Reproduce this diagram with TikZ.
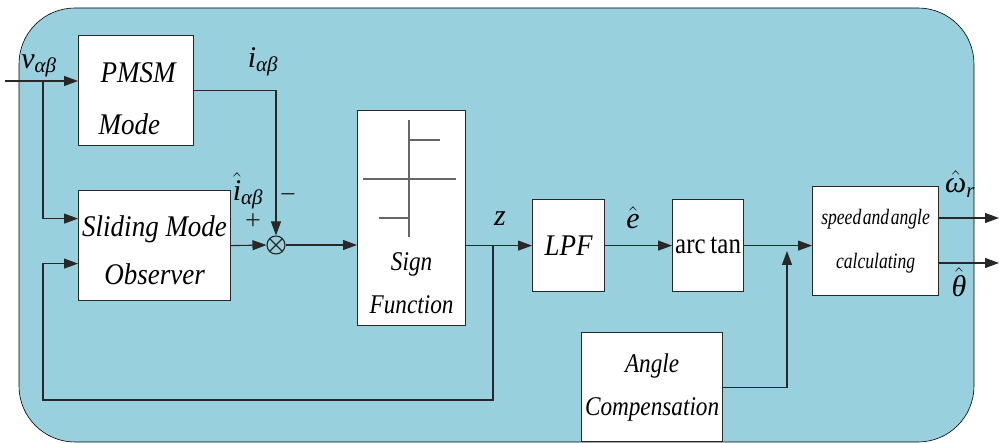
\RequirePackage{fix-cm}
\documentclass[tikz,border=0pt]{standalone}
\usepackage{fontspec}
\setmainfont{Liberation Serif}
\newfontfamily\blkfont[FakeStretch=0.9]{Liberation Serif}
\newfontfamily\narfont[FakeStretch=0.86]{Liberation Serif}
\newfontfamily\spdfont[FakeStretch=0.8,WordSpace=0.35]{Liberation Serif}
\usetikzlibrary{arrows.meta,calc}
\definecolor{bgc}{RGB}{153,208,222}
\definecolor{lnc}{RGB}{40,40,40}
\newcommand{\hatit}[1]{\ensuremath{\hat{\mbox{\itshape #1}}}}
\tikzset{
  blk/.style={draw=lnc, line width=1.2pt, fill=white, inner sep=0pt, anchor=north west, align=center,
    font=\blkfont\itshape\fontsize{30}{48}\selectfont},
  arr/.style={draw=lnc, line width=1.1pt, -{Triangle[length=14pt,width=10pt]}},
  ln/.style={draw=lnc, line width=1.1pt},
  lab/.style={inner sep=0pt, font=\itshape\fontsize{30}{32}\selectfont},
  sml/.style={inner sep=0pt, font=\fontsize{28}{30}\selectfont, text=lnc},
  sgn/.style={draw=black!60, line width=1.5pt}
}
\begin{document}
\begin{tikzpicture}[x=1pt,y=-1pt]
\useasboundingbox (0,0) rectangle (999,443);
\fill[bgc, draw=black, line width=0.6pt, rounded corners=56pt] (19,8) rectangle (974,442);
% blocks
\node[blk, minimum width=115pt, minimum height=110pt, align=left, font=\blkfont\itshape\fontsize{30}{52}\selectfont] (pmsm) at (78,35) {\rule{0pt}{36pt}\hspace*{4pt}PMSM\\\hspace*{2pt}Mode};
\node[blk, minimum width=152pt, minimum height=110pt] (smo) at (78,190) {\rule{0pt}{30pt}Sliding Mode\\Observer};
\node[blk, minimum width=108pt, minimum height=215pt, font=\narfont\itshape\fontsize{27}{43}\selectfont] (sign) at (357,110) {\vphantom{X}\\[87pt]Sign\\Function};
\node[blk, minimum width=72pt, minimum height=92pt, font=\blkfont\itshape\fontsize{30}{36}\selectfont] (lpf) at (532,199) {LPF};
\node[blk, minimum width=71pt, minimum height=92pt, font=\narfont\fontsize{29}{36}\selectfont] (atan) at (672,199) {arc\,tan};
\node[blk, minimum width=126pt, minimum height=109pt, font=\spdfont\itshape\fontsize{22}{44}\selectfont] (spd) at (812,186) {speed and angle\\calculating};
\node[blk, minimum width=141pt, minimum height=109pt, font=\narfont\itshape\fontsize{27}{43}\selectfont] (ang) at (581,332) {Angle\\Compensation};
% sign graph
\draw[sgn] ($(sign.north west)+(52,10)$) -- ($(sign.north west)+(52,127)$);
\draw[sgn] ($(sign.north west)+(52,30)$) -- ($(sign.north west)+(83,30)$);
\draw[sgn] ($(sign.north west)+(6,69)$) -- ($(sign.north west)+(99,69)$);
\draw[sgn] ($(sign.north west)+(22,108)$) -- ($(sign.north west)+(52,108)$);
% summing junction
\node[circle, draw=lnc, line width=1.1pt, minimum size=18pt, inner sep=0pt] (sum) at (276,245) {};
\draw[ln] (sum.north east) -- (sum.south west) (sum.north west) -- (sum.south east);
% coordinates
\coordinate (in) at (5,81);
\coordinate (b1) at (43,81);
\coordinate (zb) at (493,245);
\coordinate (fbl) at (43,400);
\coordinate (aj) at (787,251);
\coordinate (o1) at (999,218);
\coordinate (o2) at (999,263);
% connectors
\draw[arr] (in) -- (in -| pmsm.west);
\draw[arr] (b1) |- ($(smo.west)+(0,-27)$);
\draw[arr] (pmsm.east) -| (sum.north);
\draw[arr] (smo.east) -- (sum.west);
\draw[arr] (sum.east) -- (sum.east -| sign.west);
\draw[arr] (lpf.west -| sign.east) -- (lpf.west);
\draw[arr] (zb) |- (fbl) |- ($(smo.west)+(0,18)$);
\draw[arr] (lpf.east) -- (atan.west);
\draw[arr] (atan.east) -- (atan.east -| spd.west);
\draw[arr] (ang.east) -| (aj);
\draw[arr] (o1 -| spd.east) -- (o1);
\draw[arr] (o2 -| spd.east) -- (o2);
% labels
\node[lab] (lv) at (39,66) {v\textsubscript{αβ}};
\node[lab] (li) at (263,62) {i\textsubscript{αβ}};
\node[lab] (lih) at (248,191) {\hatit{i}\textsubscript{αβ}};
\node[sml] (lp) at (253,222) {+};
\node[sml] (lm) at (288,199) {−};
\node[lab] (lz) at (500,219) {z};
\node[lab] (le) at (633,218) {\hatit{e}};
\node[lab] (lw) at (960,184) {\hatit{ω}\textsubscript{r}};
\node[lab] (lt) at (959,282) {\hatit{θ}};
\end{tikzpicture}
\end{document}
